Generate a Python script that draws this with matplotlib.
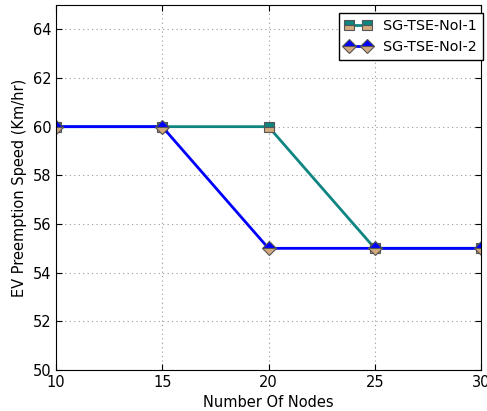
import matplotlib
matplotlib.use("Agg")
import matplotlib.pyplot as plt

# data
nodes = [10, 15, 20, 25, 30]
speed_nol1 = [60, 60, 60, 55, 55]
speed_nol2 = [60, 60, 55, 55, 55]

plt.rcParams["xtick.direction"] = "in"
plt.rcParams["ytick.direction"] = "in"
plt.rcParams["xtick.top"] = True
plt.rcParams["ytick.right"] = True

fig = plt.figure(figsize=(4.87, 4.11), dpi=100)
ax = fig.add_axes([56 / 487, 1 - 370 / 411, (481 - 56) / 487, (370 - 5) / 411])

ax.plot(nodes, speed_nol1, color="#0d8580", linewidth=2, marker="s", markersize=7,
        fillstyle="top", markerfacecolor="#0d8580", markerfacecoloralt="#d2aa7d",
        markeredgecolor="#555555", markeredgewidth=0.8, label="SG-TSE-NoI-1")
ax.plot(nodes, speed_nol2, color="#0000ff", linewidth=2, marker="D", markersize=7,
        fillstyle="top", markerfacecolor="#0000ff", markerfacecoloralt="#d2aa7d",
        markeredgecolor="#555555", markeredgewidth=0.8, label="SG-TSE-NoI-2")

ax.set_xlim(10, 30)
ax.set_ylim(50, 65)
ax.set_xticks([10, 15, 20, 25, 30])
ax.set_yticks(range(50, 65, 2))
ax.tick_params(labelsize=10.5, length=4)
ax.grid(True, linestyle=(0, (1, 3)), color="#999999", linewidth=0.8)

ax.set_xlabel("Number Of Nodes", fontsize=10.5)
ax.set_ylabel("EV Preemption Speed (Km/hr)", fontsize=10.5)

leg = ax.legend(loc="upper right", bbox_to_anchor=(1.004, 0.978), fontsize=10.3,
                fancybox=False, framealpha=1, numpoints=2, handlelength=1.9,
                borderaxespad=0)
leg.get_frame().set_edgecolor("black")

fig.savefig("out.png", dpi=100)
